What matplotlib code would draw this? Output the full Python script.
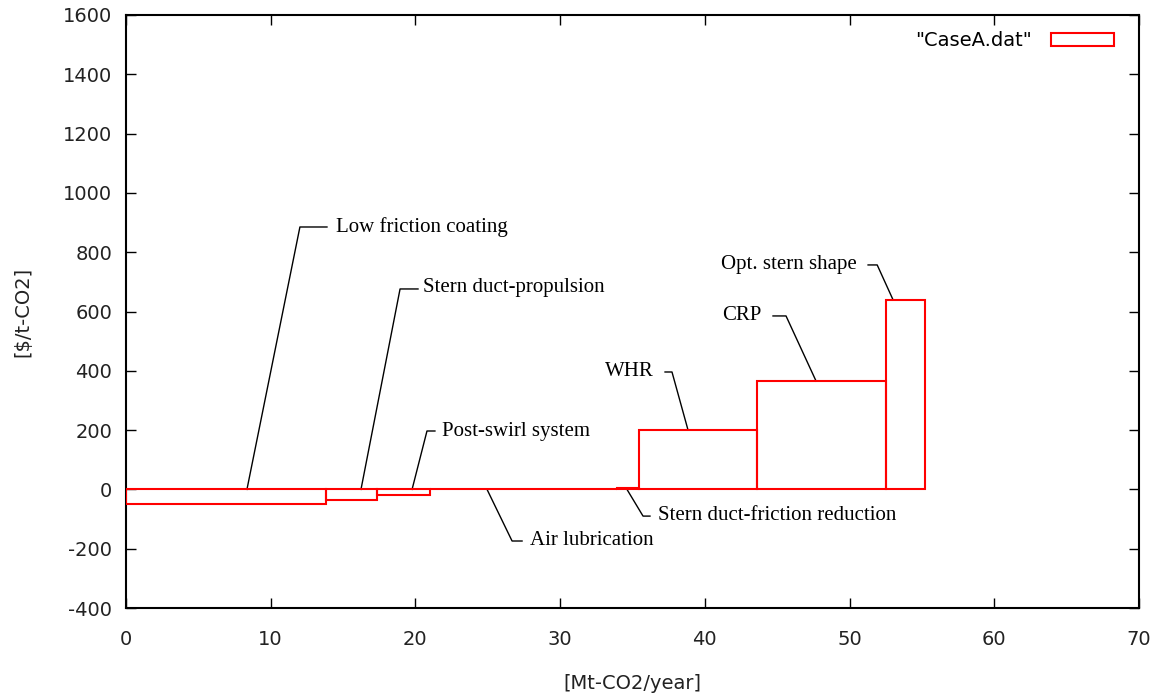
import numpy as np
import matplotlib
matplotlib.use('Agg')
import matplotlib.pyplot as plt
from matplotlib.patches import Rectangle

plt.rcParams['axes.unicode_minus'] = False

# abatement options: reduction potential [Mt-CO2/year] and cost [$/t-CO2]
options = ['Low friction coating', 'Stern duct-propulsion', 'Post-swirl system',
           'Air lubrication', 'Stern duct-friction reduction', 'WHR', 'CRP',
           'Opt. stern shape']
widths = [13.8, 3.55, 3.65, 12.9, 1.55, 8.15, 8.9, 2.7]
costs = [-50, -37, -20, 0, 5, 200, 365, 640]

# label layout: anchor on bar (x), elbow point, end of short horizontal, text pos
anchor_x = [8.36, 16.24, 19.77, 24.95, 34.62, 38.84, 47.69, 53.0]
elbow = [(12.02, 885), (18.94, 676), (20.8, 197), (26.68, -174), (35.73, -90),
         (37.73, 396), (45.61, 585), (51.91, 757)]
tail_x = [13.89, 20.18, 21.35, 27.37, 36.21, 37.25, 44.71, 51.28]
text_pos = [(14.51, 885), (20.53, 680), (21.84, 195), (27.92, -172), (36.77, -88),
            (36.49, 396), (43.95, 585), (50.52, 760)]
text_ha = ['left', 'left', 'left', 'left', 'left', 'right', 'right', 'right']

lefts = np.concatenate([[0], np.cumsum(widths)[:-1]])

fig = plt.figure(figsize=(11.62, 7.0), dpi=100)
ax = fig.add_axes([0.1084, 0.1314, 0.9802 - 0.1084, 0.9786 - 0.1314])

ax.bar(lefts, costs, width=widths, align='edge', facecolor='none',
       edgecolor='red', linewidth=1.5, zorder=3)

for i, name in enumerate(options):
    top = costs[i] if costs[i] > 100 else 0
    ex, ey = elbow[i]
    ax.plot([anchor_x[i], ex, tail_x[i]], [top, ey, ey], color='black',
            linewidth=1.0, zorder=2)
    ax.text(text_pos[i][0], text_pos[i][1], name, ha=text_ha[i], va='center',
            fontsize=15, family='Liberation Serif', color='black')

ax.set_xlim(0, 70)
ax.set_ylim(-400, 1600)
ax.set_xticks(np.arange(0, 71, 10))
ax.set_yticks(np.arange(-400, 1601, 200))
ax.tick_params(direction='in', length=7, width=1, top=True, right=True,
               labelsize=14, colors='black')
ax.tick_params(axis='y', pad=10)
ax.tick_params(axis='x', pad=16)
for lab in ax.get_xticklabels() + ax.get_yticklabels():
    lab.set_color('#222222')
for s in ax.spines.values():
    s.set_linewidth(1.5)
ax.set_xlabel('[Mt-CO2/year]', fontsize=14, labelpad=18, color='#222222')
ax.set_ylabel('[\\$/t-CO2]', fontsize=14, labelpad=22, color='#222222')

handle = Rectangle((0, 0), 1, 1, facecolor='none', edgecolor='red', linewidth=1.5)
ax.legend([handle], ['"CaseA.dat"'], loc='upper right', frameon=False,
          fontsize=14, handlelength=3.2, handleheight=0.7, handletextpad=1.0,
          markerfirst=False, borderaxespad=0.9, bbox_to_anchor=(1.0, 1.015))

fig.savefig('out.png', dpi=100)
